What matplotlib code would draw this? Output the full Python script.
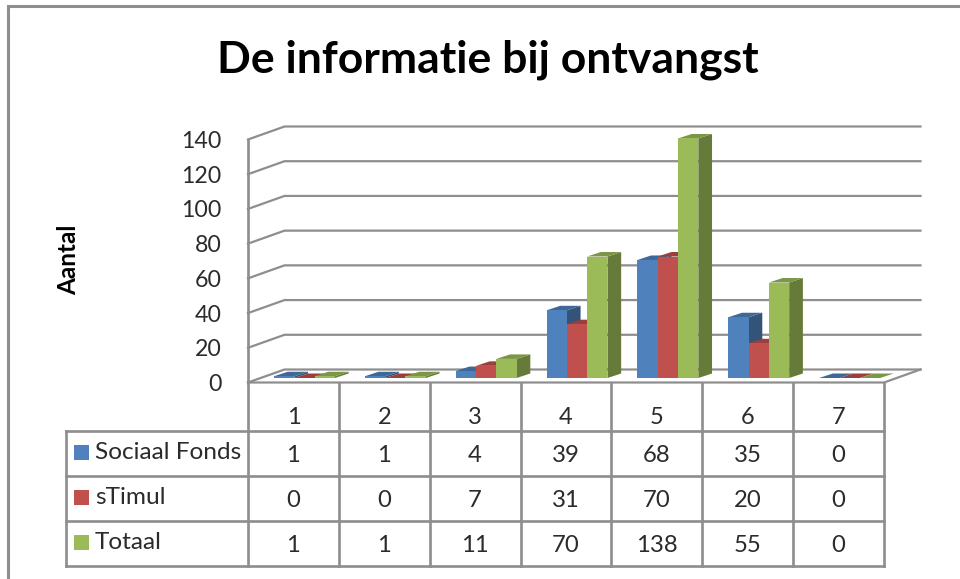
import matplotlib
matplotlib.use("Agg")
import matplotlib.pyplot as plt
from matplotlib.patches import Polygon, Rectangle

plt.rcParams['font.family'] = ['Lato', 'DejaVu Sans']

title = "De informatie bij ontvangst"
y_label = "Aantal"
categories = ["1", "2", "3", "4", "5", "6", "7"]
series_names = ["Sociaal Fonds", "sTimul", "Totaal"]
sociaal_fonds = [1, 1, 4, 39, 68, 35, 0]
stimul = [0, 0, 7, 31, 70, 20, 0]
totaal = [1, 1, 11, 70, 138, 55, 0]
y_ticks = [0, 20, 40, 60, 80, 100, 120, 140]

GRID = "#8e8e8e"
TEXT = "#2b2b2b"
# front, top, side colour per series
COLORS = [("#4f81bd", "#3f6797", "#335478"),
          ("#c0504d", "#99403d", "#7f3532"),
          ("#9bbb59", "#7c9647", "#667b3a")]

W, H = 960, 579
fig = plt.figure(figsize=(W / 100, H / 100), dpi=100, facecolor="white")

# overlay in pixels for frame, title and table layout
ov = fig.add_axes([0, 0, 1, 1])
ov.set_xlim(0, W)
ov.set_ylim(H, 0)
ov.axis("off")

# plot area: the front plane of the 3d box
left, right, y_bottom, y_top = 248.0, 884.0, 382.5, 139.5
ax = fig.add_axes([left / W, 1 - y_bottom / H, (right - left) / W, (y_bottom - y_top) / H])
ax.set_xlim(0, 7)
ax.set_ylim(0, 140)
ax.axis("off")

px_x = 7 / (right - left)      # data units per pixel
px_y = 140 / (y_bottom - y_top)
wall_dx, wall_dy = 36.5 * px_x, 13.0 * px_y
bar_dx, bar_dy = 13.7 * px_x, 4.5 * px_y
bar_w = 20.3 * px_x
bar_start = 26.0 * px_x
LW = 1.6

# outer frame (runs off the picture on the right and the bottom)
ov.plot([7.5, 7.5, W], [H, 6, 6], color=GRID, lw=2.2, solid_joinstyle="miter")

ov.text(487.5, 73, title, fontsize=32, fontweight="bold", color="black", ha="center", va="baseline")
ov.text(69, 260, y_label, fontsize=17.5, fontweight="bold", color="black", rotation=90, ha="center", va="center")

# walls and gridlines
for t in y_ticks:
    ax.plot([0, wall_dx, 7 + wall_dx], [t, t + wall_dy, t + wall_dy], color=GRID, lw=LW, clip_on=False, zorder=1)
    ax.text(-26.5 * px_x, t - 2 * px_y, str(t), fontsize=16.7, color=TEXT, ha="right", va="center", clip_on=False)
# floor front edge and right edge
ax.plot([0, 7, 7 + wall_dx], [0, 0, wall_dy], color=GRID, lw=LW, clip_on=False, zorder=1)

# bars, one category at a time so each front covers the neighbour's side
all_values = [sociaal_fonds, stimul, totaal]
for i in range(len(categories)):
    for s, values in enumerate(all_values):
        front, top, side = COLORS[s]
        x0 = i + bar_start + s * bar_w
        x1 = x0 + bar_w
        y0 = bar_dy
        y1 = y0 + values[i]
        ax.add_patch(Polygon([(x1, y0), (x1 + bar_dx, y0 + bar_dy), (x1 + bar_dx, y1 + bar_dy), (x1, y1)],
                             fc=side, ec="none", clip_on=False, zorder=3))
        ax.add_patch(Polygon([(x0, y1), (x1, y1), (x1 + bar_dx, y1 + bar_dy), (x0 + bar_dx, y1 + bar_dy)],
                             fc=top, ec="none", clip_on=False, zorder=3))
        ax.add_patch(Rectangle((x0, y0), bar_w, values[i], fc=front, ec="none", clip_on=False, zorder=3))

# data table under the chart
row_lines = [431, 476, 521, 565.5]
legend_left = 65.5
col_x = [left + k * (right - left) / 7 for k in range(8)]
for x in col_x:
    ov.plot([x, x], [y_bottom, row_lines[-1]], color=GRID, lw=LW * 1.2, solid_capstyle="projecting")
ov.plot([left, left], [y_top, y_bottom], color=GRID, lw=LW * 1.2)
for y in row_lines:
    ov.plot([legend_left, right], [y, y], color=GRID, lw=LW * 1.2, solid_capstyle="projecting")
ov.plot([legend_left, legend_left], [row_lines[0], row_lines[-1]], color=GRID, lw=LW * 1.2, solid_capstyle="projecting")

for k, cat in enumerate(categories):
    ov.text((col_x[k] + col_x[k + 1]) / 2, 418, cat, fontsize=17, color=TEXT, ha="center", va="center")

for r, values in enumerate(all_values):
    y_mid = (row_lines[r] + row_lines[r + 1]) / 2
    ov.add_patch(Rectangle((74, y_mid - 8.5), 14.5, 15, fc=COLORS[r][0], ec="none"))
    ov.text(95, y_mid - 1, series_names[r], fontsize=17.6, color=TEXT, ha="left", va="center")
    for k, v in enumerate(values):
        ov.text((col_x[k] + col_x[k + 1]) / 2, y_mid + 2, str(v), fontsize=17.2, color=TEXT, ha="center", va="center")

fig.savefig("out.png", dpi=100)
